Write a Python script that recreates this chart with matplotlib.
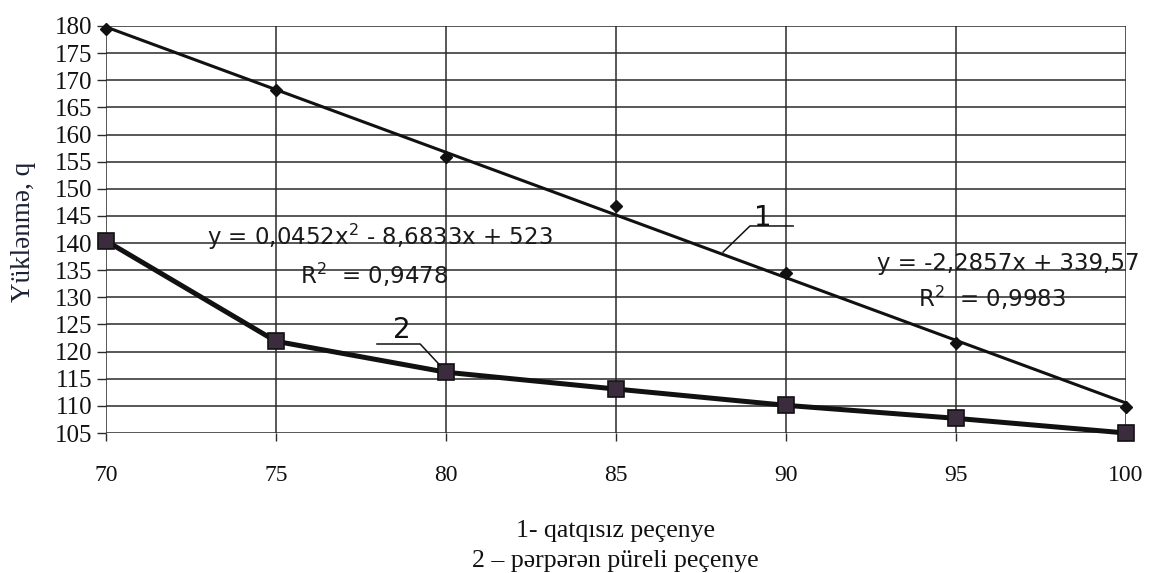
import numpy as np
import matplotlib
matplotlib.use("Agg")
import matplotlib.pyplot as plt

# ---- data ----
x_vals = [70, 75, 80, 85, 90, 95, 100]
series1 = [179.4, 168.2, 155.9, 146.8, 134.5, 121.6, 109.8]   # 1 - qatqısız peçenye
series2 = [140.4, 121.9, 116.2, 113.1, 110.1, 107.7, 105.0]   # 2 - pərpərən püreli peçenye
y_ticks = list(range(105, 181, 5))
x_ticks = [70, 75, 80, 85, 90, 95, 100]
eq1_text = "y = 0,0452x$^{2}$ - 8,6833x + 523"
r1_text = "R$^{2}$  = 0,9478"
eq2_text = "y = -2,2857x + 339,57"
r2_text = "R$^{2}$  = 0,9983"
ylabel = "Yüklənmə, q"
caption1 = "1- qatqısız peçenye"
caption2 = "2 – pərpərən püreli peçenye"

W, H = 1156, 573
fig = plt.figure(figsize=(W / 100, H / 100), dpi=100)
ax = fig.add_axes([106 / W, 1 - 433 / H, (1126 - 106) / W, (433 - 26) / H])
ax.set_xlim(70, 100)
ax.set_ylim(105, 180)

for s in ax.spines.values():
    s.set_visible(False)

ax.set_yticks(y_ticks)
ax.set_xticks(x_ticks)
ax.grid(True, color="#2a2a2a", linewidth=1.1)
ax.set_axisbelow(True)
ax.tick_params(axis="y", direction="out", length=6.5, width=1.0, color="#2a2a2a",
               pad=3.5, labelsize=18)
ax.tick_params(axis="x", direction="out", length=6, width=1.0, color="#2a2a2a",
               pad=17, labelsize=17)
for lab in ax.get_yticklabels() + ax.get_xticklabels():
    lab.set_fontfamily("Liberation Serif")
    lab.set_color("#111111")

# series 1: data markers + linear trendline
coef1 = np.polyfit(x_vals, series1, 1)
xt = np.array([x_vals[0], x_vals[-1]])
ax.plot(xt, np.polyval(coef1, xt), color="#111111", linewidth=2.2, clip_on=False, zorder=3)
ax.plot(x_vals, series1, linestyle="none", marker="D", markersize=6,
        color="#111111", clip_on=False, zorder=4)

# series 2: thick line with square markers
ax.plot(x_vals, series2, color="#111111", linewidth=3.6, clip_on=False, zorder=3,
        marker="s", markersize=11, markerfacecolor="#3a2c3c",
        markeredgecolor="#111111", markeredgewidth=1.2)

# trendline equations
eqfont = dict(family="DejaVu Sans", fontsize=16.5, color="#1a1a1a")
ax.text(72.97, 141.1, eq1_text, ha="left", va="center", **eqfont)
ax.text(75.7, 134.1, r1_text, ha="left", va="center", **eqfont)
ax.text(92.68, 136.3, eq2_text, ha="left", va="center", **eqfont)
ax.text(93.88, 129.9, r2_text, ha="left", va="center", **eqfont)

# curve labels with leader lines
ax.text(89.32, 144.6, "1", ha="center", va="center", family="DejaVu Sans",
        fontsize=20, color="#111111")
ax.plot([90.21, 88.94, 88.15], [143.15, 143.15, 138.35], color="#111111",
        linewidth=1.1, zorder=3)
ax.text(78.7, 124.0, "2", ha="center", va="center", family="DejaVu Sans",
        fontsize=20, color="#111111")
ax.plot([77.97, 79.24, 79.82], [121.4, 121.4, 117.5], color="#111111",
        linewidth=1.1, zorder=3)

# y label
fig.text(24 / W, 1 - 232 / H, ylabel, rotation=90, ha="center", va="center",
         family="Liberation Serif", fontsize=19.5, color="#1c2236")

# caption
fig.text(615 / W, 1 - 531 / H, caption1, ha="center", va="center",
         family="Liberation Serif", fontsize=18.5, color="#111111")
fig.text(615 / W, 1 - 561 / H, caption2, ha="center", va="center",
         family="Liberation Serif", fontsize=18.5, color="#111111")

fig.savefig("out.png", dpi=100)
